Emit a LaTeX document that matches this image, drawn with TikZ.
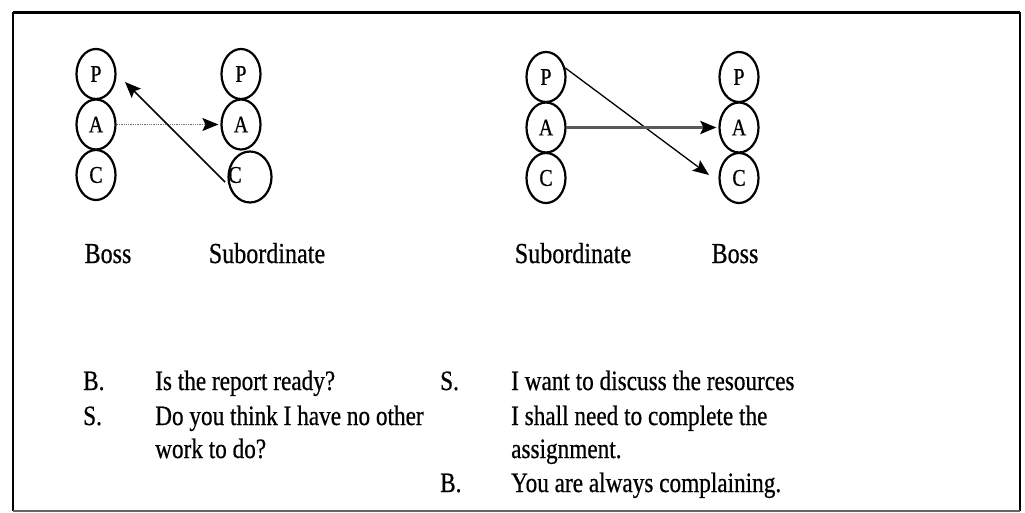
\documentclass[tikz,border=0pt]{standalone}
\usepackage{fontspec}
\setmainfont[FakeStretch=0.83,FakeBold=0.6]{Liberation Serif}
\usetikzlibrary{shapes.geometric,arrows.meta}
\tikzset{
  ego/.style={ellipse, draw, line width=2.2pt, minimum width=39pt, minimum height=50pt, inner sep=0pt, font=\fontsize{24}{26}\selectfont},
  lbl/.style={anchor=base, inner sep=0pt, font=\fontsize{29}{32}\selectfont},
  txt/.style={anchor=base west, inner sep=0pt, font=\fontsize{28}{31}\selectfont},
  arr/.style={line width=1.3pt, -{Stealth[length=16pt,width=13pt,inset=3pt,color=black]}},
}
\begin{document}
\begin{tikzpicture}[x=1pt,y=-1pt]
\useasboundingbox (0,0) rectangle (1025,513);
% frame
\draw[line width=1.8pt] (13,511) -- (13,13) -- (1020,13) -- (1020,511);
\draw[line width=3pt] (13,13) -- (1020,13);
\draw[line width=1.4pt, black!60] (13,511) -- (1020,511);

% left: Boss
\node[ego] (bP) at (96,74) {P};
\node[ego] (bA) at (96,124.5) {A};
\node[ego] (bC) at (96,175) {C};
% left: Subordinate
\node[ego] (sP) at (241,74) {P};
\node[ego] (sA) at (241,124.5) {A};
\node[ego, minimum width=43pt, minimum height=51pt] (sC) at (250,177) {};
\node[inner sep=0pt, font=\fontsize{24}{26}\selectfont] (sCl) at (235,175) {C};

% right: Subordinate
\node[ego] (rsP) at (546,77) {P};
\node[ego] (rsA) at (546,127.5) {A};
\node[ego] (rsC) at (546,178) {C};
% right: Boss
\node[ego] (rbP) at (739,77) {P};
\node[ego] (rbA) at (739,127.5) {A};
\node[ego] (rbC) at (739,178) {C};

% left arrows
\draw[arr, black!55, densely dotted, line width=1.2pt] (bA.east) -- ([xshift=-2pt]sA.west);
\coordinate (t1) at (125,82);
\draw[arr, line width=1.5pt] ([xshift=-10pt,yshift=-7pt]sCl.center) -- (t1);

% right arrows
\coordinate (t2) at (709,175);
\draw[arr, line width=1.3pt] (rsP.25) -- (t2);
\draw[arr, black!65, line width=3pt] (rsA.east) -- ([xshift=-2pt]rbA.west);

% labels
\node[lbl] (l1) at (108,263) {Boss};
\node[lbl] (l2) at (267,263) {Subordinate};
\node[lbl] (l3) at (573,263) {Subordinate};
\node[lbl] (l4) at (735,263) {Boss};

% dialogue left
\node[txt] (a1) at (83,390) {B.};
\node[txt] (a2) at (155,390) {Is the report ready?};
\node[txt] (a3) at (83,425) {S.};
\node[txt] (a4) at (155,425) {Do you think I have no other};
\node[txt] (a5) at (155,458) {work to do?};
% dialogue right
\node[txt] (b1) at (440,390) {S.};
\node[txt] (b2) at (511,390) {I want to discuss the resources};
\node[txt] (b3) at (511,425) {I shall need to complete the};
\node[txt] (b4) at (511,458) {assignment.};
\node[txt] (b5) at (440,492) {B.};
\node[txt] (b6) at (511,492) {You are always complaining.};
\end{tikzpicture}
\end{document}
